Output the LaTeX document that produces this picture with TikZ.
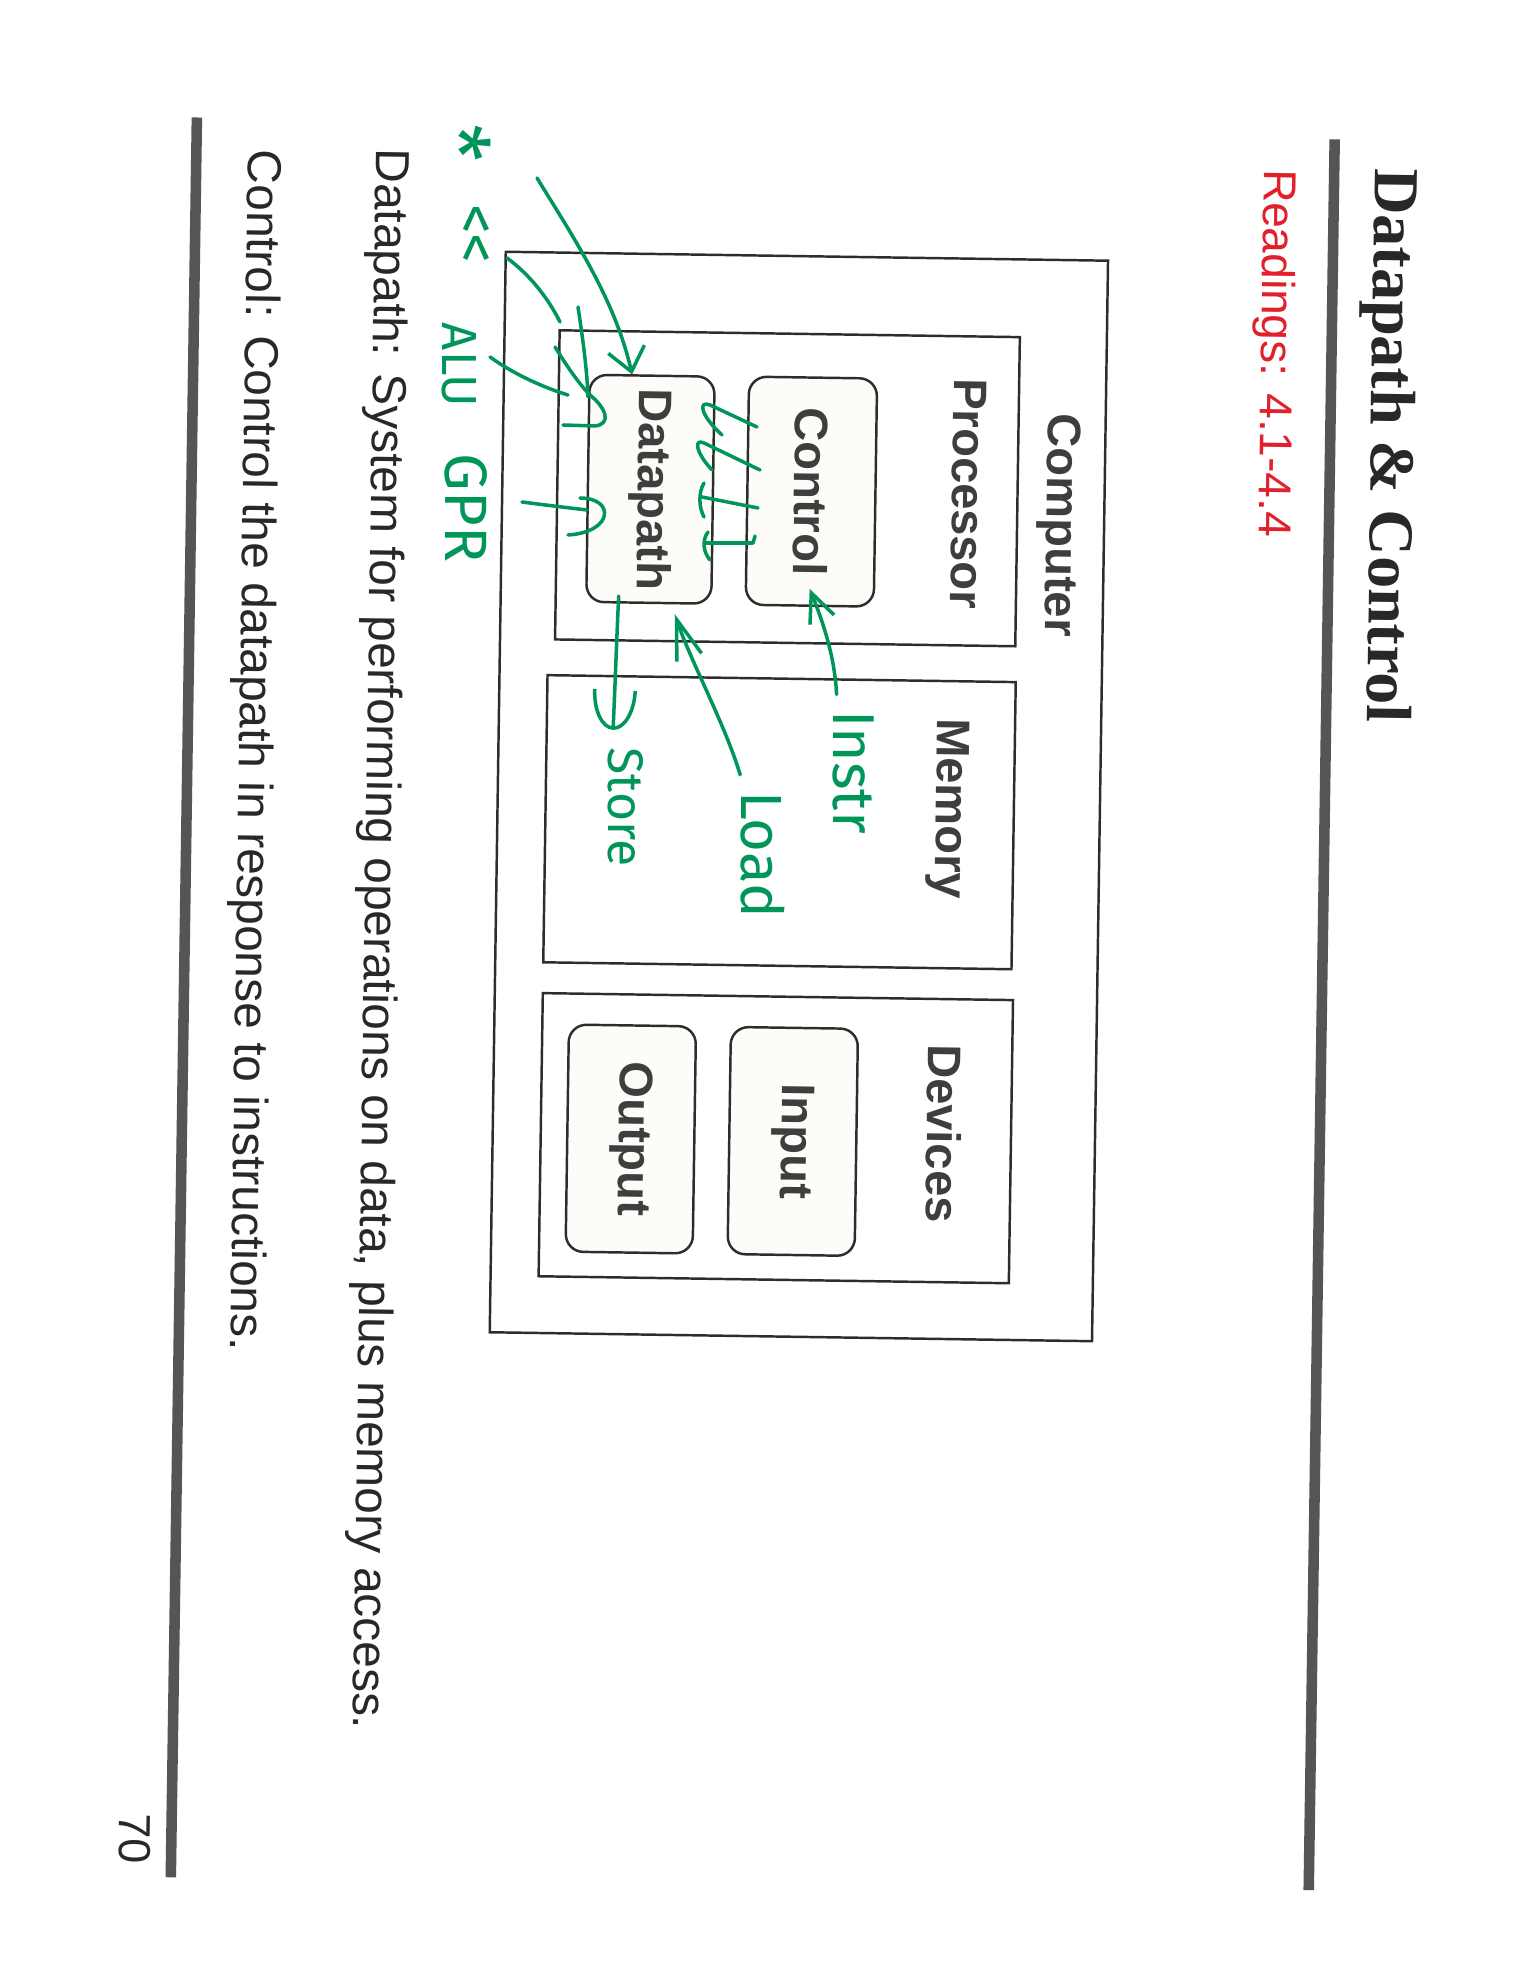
\documentclass[tikz,border=0pt]{standalone}
\usepackage{fontspec}
\setmainfont{Liberation Sans}
\newfontfamily\titlefont{Liberation Serif}
\newfontfamily\handfont{Fira Sans}
\usetikzlibrary{arrows.meta}
\definecolor{boxline}{RGB}{45,45,45}
\definecolor{boxtext}{RGB}{62,62,62}
\definecolor{bodytext}{RGB}{40,40,40}
\definecolor{barcolor}{RGB}{85,85,85}
\definecolor{readred}{RGB}{226,32,44}
\definecolor{penink}{RGB}{0,150,90}
\definecolor{tintfill}{RGB}{254,252,248}

\begin{document}
\begin{tikzpicture}[x=0.01cm, y=-0.01cm,
        outerbox/.style={draw=boxline, line width=0.7pt, rotate=-90, inner sep=0pt},
        unitbox/.style={outerbox, rounded corners=5pt, fill=tintfill,
            font=\fontsize{13.4}{16}\selectfont\bfseries, text=boxtext},
        boxlabel/.style={rotate=-90, inner sep=0pt, text=boxtext,
            font=\fontsize{13.4}{16}\selectfont\bfseries},
        bodyline/.style={rotate=-90, anchor=base west, inner sep=0pt, text=bodytext,
            font=\fontsize{13.6}{16}\selectfont},
        bar/.style={draw=barcolor, line width=3pt},
        hand/.style={draw=penink, line width=1pt, line cap=round, line join=round},
        handtext/.style={rotate=-90, inner sep=0pt, text=penink}
    ]
    \fill[white] (0,0) rectangle (1530,1980);
    \useasboundingbox (0,0) rectangle (1530,1980);

    % the scanned page sits a little askew
    \begin{scope}[rotate around={-0.85:(765,990)}, transform shape]
    \draw[bar] (1322,131) -- (1322,1882);
    \draw[bar] (184,126) -- (184,1886);

    \node[bodyline, font=\titlefont\fontsize{18.2}{22}\selectfont\bfseries] (title)
        at (1363,159) {Datapath \& Control};
    \node[bodyline, text=readred, font=\fontsize{13.1}{16}\selectfont] (readings)
        at (1252,161) {Readings: 4.1-4.4};

    \node[outerbox, minimum width=10.8cm, minimum height=6.02cm] (comp) at (796,796) {};
    \node[boxlabel] (complbl) at (1051,521) {Computer};

    \node[outerbox, minimum width=3.09cm, minimum height=4.6cm] (proc) at (780,488) {};
    \node[boxlabel] (proclbl) at (961,491) {Processor};
    \node[unitbox, minimum width=2.28cm, minimum height=1.28cm] (ctrl) at (804,491) {Control};
    \node[unitbox, minimum width=2.27cm, minimum height=1.25cm] (dp) at (643,491) {Datapath};

    \node[outerbox, minimum width=2.87cm, minimum height=4.68cm] (mem) at (777,822) {};
    \node[boxlabel] (memlbl) at (945,806) {Memory};

    \node[outerbox, minimum width=2.83cm, minimum height=4.7cm] (dev) at (778,1138) {};
    \node[boxlabel] (devlbl) at (946,1131) {Devices};
    \node[unitbox, minimum width=2.27cm, minimum height=1.27cm] (inp) at (795,1141) {Input};
    \node[unitbox, minimum width=2.27cm, minimum height=1.27cm] (outp) at (633,1141) {Output};

    \node[bodyline] (dpdef) at (364,154)
        {Datapath: System for performing operations on data, plus memory access.};
    \node[bodyline] (ctrldef) at (236,157)
        {Control: Control the datapath in response to instructions.};
    \node[bodyline, font=\fontsize{12.8}{15}\selectfont] (pgnum) at (132,1822) {70};
    \end{scope}

    % pen notes
    \node[handtext, font=\handfont\fontsize{24}{24}\selectfont] (star) at (460,143) {*};
    \node[handtext, font=\handfont\fontsize{17}{17}\selectfont] (shl) at (473,234) {<{}<};
    \node[handtext, font=\handfont\fontsize{14}{14}\selectfont] (alu) at (459,365) {ALU};
    \node[handtext, font=\handfont\fontsize{17}{17}\selectfont] (gpr) at (466,508) {GPR};
    \node[handtext, font=\handfont\fontsize{16.8}{17}\selectfont] (instr) at (853,772) {Instr};
    \node[handtext, font=\handfont\fontsize{16.5}{17}\selectfont] (load) at (763,855) {Load};
    \node[handtext, font=\handfont\fontsize{14.2}{15}\selectfont] (store) at (626,807) {Store};
    \coordinate (shlend) at (537,178);

    \draw[hand, -{Straight Barb[length=2.9mm, width=2.6mm]}]
        ([xshift=0.5mm, yshift=1.5mm]instr.south west) .. controls +(-2,-40) and +(12,30) ..
        ([yshift=1.8mm]ctrl.east);
    \draw[hand, -{Straight Barb[length=4mm, width=2.6mm]}]
        ([yshift=1.6mm]load.south west) .. controls +(-15,-50) and +(15,45) ..
        ([xshift=2.6mm, yshift=-1mm]dp.east);
    \draw[hand, -{Arc Barb[length=4mm, width=4.4mm]}]
        ([xshift=-3mm, yshift=0.8mm]dp.east) .. controls +(-2,40) and +(2,-40) ..
        ([xshift=-1.3mm, yshift=1.7mm]store.west);
    \draw[hand, -{Straight Barb[length=2.3mm, width=3.7mm]}]
        (shlend) .. controls (575,240) and (615,300) .. ([xshift=-2mm]dp.west);

    \draw[hand] (507,258) .. controls (530,275) and (548,298) .. (560,322);
    \draw[hand] (578,307) .. controls (583,340) and (587,370) .. (588,397);
    \draw[hand] (555,347) .. controls (568,368) and (580,385) .. (590,395)
        .. controls (606,408) and (612,424) .. (595,426) -- (563,425);
    \draw[hand] (490,357) .. controls (515,375) and (545,388) .. (568,395);
    \draw[hand] (522,502) .. controls (545,505) and (570,508) .. (587,510);
    \draw[hand] (580,498) .. controls (615,498) and (614,532) .. (568,535);

    \draw[hand] (722,435) .. controls (700,415) and (698,400) .. (710,405) -- (757,427);
    \draw[hand] (712,470) .. controls (695,452) and (694,438) .. (704,443) -- (760,470);
    \draw[hand] (704,483) .. controls (698,493) and (699,508) .. (704,517);
    \draw[hand] (702,497) -- (758,508);
    \draw[hand] (708,532) .. controls (702,540) and (703,552) .. (710,560);
    \draw[hand] (705,543) -- (753,543) -- (755,536);
\end{tikzpicture}
\end{document}
